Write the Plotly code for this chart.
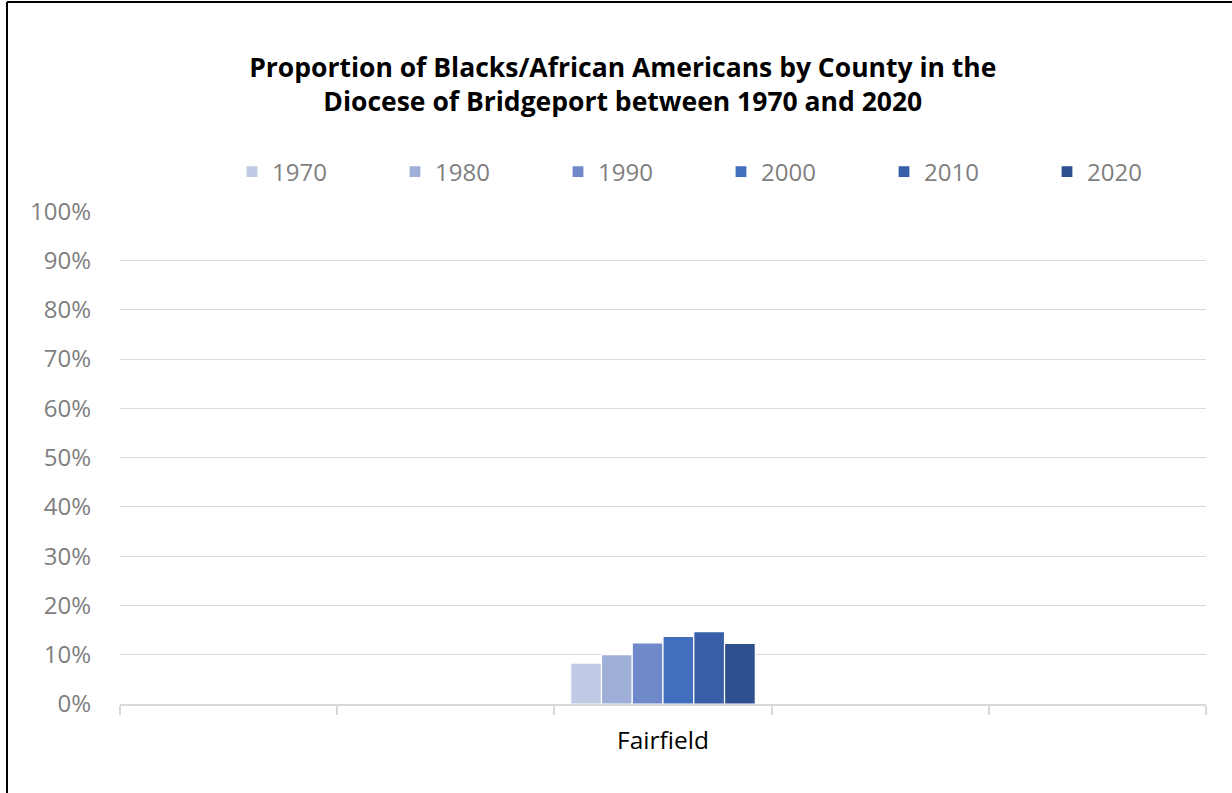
import plotly.graph_objects as go

# County slots on the category axis (only Fairfield carries data)
counties = [" ", "  ", "Fairfield", "   ", "    "]
years = ["1970", "1980", "1990", "2000", "2010", "2020"]
fairfield_share = [0.083, 0.100, 0.124, 0.137, 0.147, 0.123]
colors = ["#C0CAE4", "#A0AFD8", "#6F89CA", "#416EBE", "#375EA6", "#2F5090"]

FONT = "Open Sans"

fig = go.Figure()
for year, share, color in zip(years, fairfield_share, colors):
    yvals = [share if c == "Fairfield" else None for c in counties]
    fig.add_trace(go.Bar(
        name=year,
        x=counties,
        y=yvals,
        marker=dict(color=color, line=dict(color="white", width=1.2)),
    ))

W, H = 1232, 793
L, R, T, B = 120, 26, 211, 89
pw, ph = W - L - R, H - T - B

def px_x(p):
    return (p - L) / pw

def px_y(p):
    return (H - B - p) / ph

fig.update_layout(
    width=W, height=H,
    margin=dict(l=L, r=R, t=T, b=B, pad=0),
    paper_bgcolor="white",
    plot_bgcolor="white",
    barmode="group",
    bargap=0.15,
    bargroupgap=0,
    title=dict(
        text="<b>Proportion of Blacks/African Americans by County in the<br>Diocese of Bridgeport between 1970 and 2020</b>",
        x=0.5055, xanchor="center",
        y=1 - 77 / H, yanchor="middle",
        font=dict(family=FONT, size=26.5, color="black"),
    ),
    legend=dict(
        orientation="h",
        x=px_x(721), xanchor="center",
        y=px_y(172), yanchor="middle",
        font=dict(family=FONT, size=24, color="#7F7F7F"),
        entrywidth=118, entrywidthmode="pixels",
        itemwidth=30,
        traceorder="normal",
    ),
    xaxis=dict(
        type="category",
        categoryorder="array",
        categoryarray=counties,
        tickson="boundaries",
        ticks="outside",
        ticklen=9,
        tickcolor="#D9D9D9",
        tickwidth=1.5,
        showline=True,
        linecolor="#D9D9D9",
        linewidth=1.5,
        showgrid=False,
        tickfont=dict(family=FONT, size=24.5, color="black"),
        ticklabelstandoff=14,
        range=[-0.5, 4.5],
    ),
    yaxis=dict(
        range=[0, 1.0005],
        dtick=0.1,
        tickformat=".0%",
        showgrid=True,
        gridcolor="#D9D9D9",
        gridwidth=1.2,
        zeroline=False,
        showline=False,
        ticks="",
        tickfont=dict(family=FONT, size=24, color="#7F7F7F"),
        ticklabelstandoff=28,
    ),
    shapes=[
        dict(type="line", xref="paper", yref="paper",
             x0=px_x(7), x1=px_x(7), y0=px_y(2), y1=px_y(800),
             line=dict(color="black", width=2)),
        dict(type="line", xref="paper", yref="paper",
             x0=px_x(7), x1=px_x(1240), y0=px_y(2), y1=px_y(2),
             line=dict(color="black", width=2)),
    ],
)

fig.write_html("out.html")
